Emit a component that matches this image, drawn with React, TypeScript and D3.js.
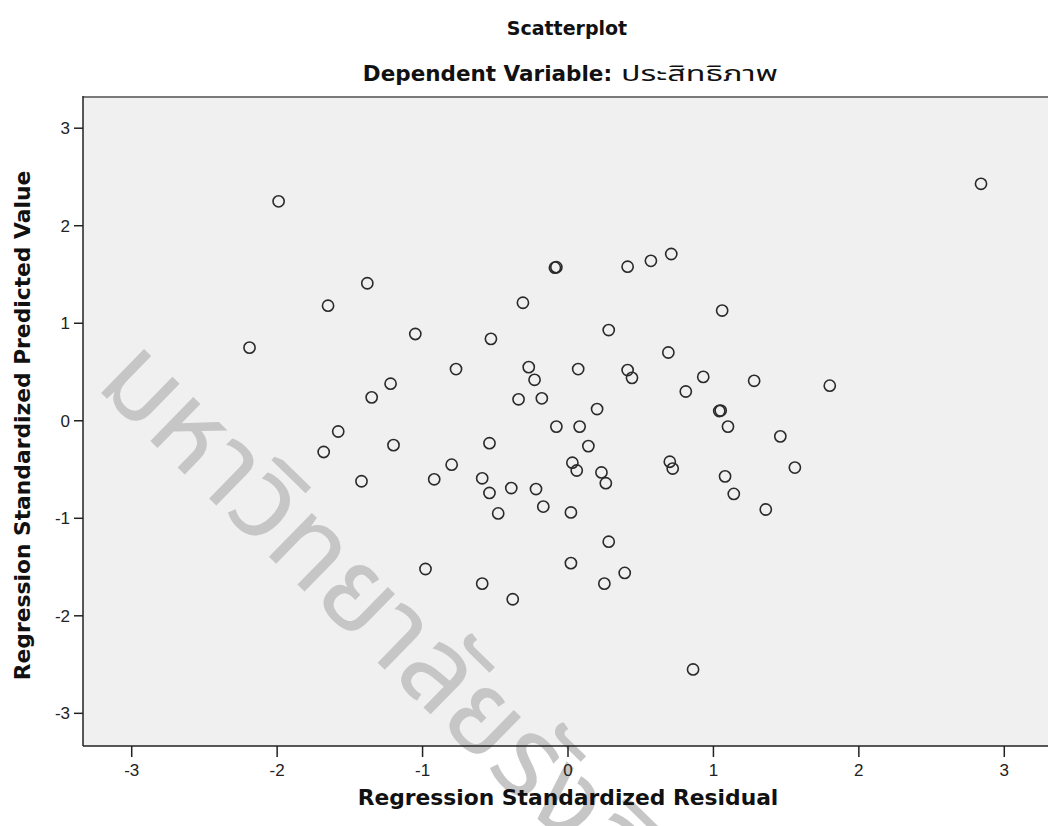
import React from "react";
import * as d3 from "d3";

const residuals = [
  -1.99, -0.09, -0.08, -1.38, -1.65, -0.31, -1.05, -0.53, -2.19, -0.77,
  -0.27, -0.23, 0.07, -1.22, -1.35, -0.34, -0.18, -1.58, 2.84, 0.41,
  0.57, 0.71, 1.06, 0.28, 0.69, 0.41, 0.44, 0.93, 0.81, 1.28,
  1.80, 0.20, 1.04, 1.05, 1.10, -0.08, 0.08, 0.14, 1.46, 0.70,
  0.72, 1.56, 1.08, 1.14, 1.36, 0.23, 0.26, 0.03, 0.06, 0.28,
  0.39, 0.25, 0.86, 0.02, -1.68, -1.20, -0.54, -0.80, -0.92, -1.42,
  -0.59, -0.54, -0.39, -0.22, -0.17, -0.48, 0.02, -0.98, -0.59, -0.38,
];
const predicted = [
  2.25, 1.57, 1.575, 1.41, 1.18, 1.21, 0.89, 0.84, 0.75, 0.53,
  0.55, 0.42, 0.53, 0.38, 0.24, 0.22, 0.23, -0.11, 2.43, 1.58,
  1.64, 1.71, 1.13, 0.93, 0.70, 0.52, 0.44, 0.45, 0.30, 0.41,
  0.36, 0.12, 0.10, 0.105, -0.06, -0.06, -0.06, -0.26, -0.16, -0.42,
  -0.49, -0.48, -0.57, -0.75, -0.91, -0.53, -0.64, -0.43, -0.51, -1.24,
  -1.56, -1.67, -2.55, -1.46, -0.32, -0.25, -0.23, -0.45, -0.60, -0.62,
  -0.59, -0.74, -0.69, -0.70, -0.88, -0.95, -0.94, -1.52, -1.67, -1.83,
];
const xTicks = [-3, -2, -1, 0, 1, 2, 3];
const yTicks = [-3, -2, -1, 0, 1, 2, 3];

const title = "Scatterplot";
const subtitleBold = "Dependent Variable:";
const subtitleThai = "ประสิทธิภาพ";
const xLabel = "Regression Standardized Residual";
const yLabel = "Regression Standardized Predicted Value";
const watermark = "มหาวิทยาลัยรังสิต";

const W = 1048;
const H = 826;
const plot = { left: 83, top: 97, bottom: 746, right: 1053 };

export default function App() {
  const x = d3.scaleLinear().domain([-3.335, 3.335]).range([plot.left, plot.right]);
  const y = d3.scaleLinear().domain([-3.335, 3.32]).range([plot.bottom, plot.top]);
  const tickFont = "'Liberation Sans', Arial, sans-serif";
  const labelFont = "'DejaVu Sans', Verdana, sans-serif";
  const thaiFont = "'Noto Sans Thai', 'Noto Sans', sans-serif";
  const pts = residuals.map((r, i) => ({ r, p: predicted[i] }));

  return (
    <svg
      width={W}
      height={H}
      style={{ position: "absolute", left: 0, top: 0, display: "block", background: "#fff" }}
    >
      <rect x={plot.left} y={plot.top} width={plot.right - plot.left} height={plot.bottom - plot.top} fill="#f0f0f0" />
      {/* watermark */}
      <text
        transform="translate(94,386) rotate(44.3)"
        fontSize={112}
        fontFamily={thaiFont}
        fontWeight={400}
        fill="#c6c6c6"
      >
        {watermark}
      </text>
      {/* frame */}
      <line x1={plot.left} x2={plot.right} y1={plot.top} y2={plot.top} stroke="#7a7a7a" strokeWidth={2.2} />
      <line x1={plot.left} x2={plot.left} y1={plot.top - 1} y2={plot.bottom} stroke="#222" strokeWidth={1.5} />
      <line x1={plot.left} x2={plot.right} y1={plot.bottom} y2={plot.bottom} stroke="#222" strokeWidth={1.5} />
      {/* y ticks */}
      {yTicks.map((t) => (
        <g key={"y" + t}>
          <line x1={plot.left - 9} x2={plot.left} y1={y(t)} y2={y(t)} stroke="#222" strokeWidth={1.5} />
          <text x={plot.left - 13} y={y(t)} dy="0.36em" textAnchor="end" fontSize={17} fontFamily={tickFont} fill="#222">
            {t}
          </text>
        </g>
      ))}
      {/* x ticks */}
      {xTicks.map((t) => (
        <g key={"x" + t}>
          <line x1={x(t)} x2={x(t)} y1={plot.bottom} y2={plot.bottom + 11} stroke="#222" strokeWidth={1.5} />
          <text x={x(t)} y={plot.bottom + 30} textAnchor="middle" fontSize={17} fontFamily={tickFont} fill="#222">
            {t}
          </text>
        </g>
      ))}
      {/* points */}
      {pts.map((d, i) => (
        <circle key={i} cx={x(d.r)} cy={y(d.p)} r={5.6} fill="none" stroke="#2a2a2a" strokeWidth={1.6} />
      ))}
      {/* titles */}
      <text x={567} y={35} textAnchor="middle" fontSize={19} fontWeight="bold" fontFamily={labelFont} fill="#111">
        {title}
      </text>
      <text x={612} y={81} textAnchor="end" fontSize={21.5} fontWeight="bold" fontFamily={labelFont} fill="#111">
        {subtitleBold}
      </text>
      <text
        x={621}
        y={81}
        fontSize={22}
        fontFamily={thaiFont}
        fill="#111"
        textLength={157}
        lengthAdjust="spacingAndGlyphs"
      >
        {subtitleThai}
      </text>
      <text x={568} y={805} textAnchor="middle" fontSize={21.8} fontWeight="bold" fontFamily={labelFont} fill="#111">
        {xLabel}
      </text>
      <text
        transform={`translate(30,${(plot.top + plot.bottom) / 2 + 4}) rotate(-90)`}
        textAnchor="middle"
        fontSize={21.8}
        fontWeight="bold"
        fontFamily={labelFont}
        fill="#111"
      >
        {yLabel}
      </text>
    </svg>
  );
}
